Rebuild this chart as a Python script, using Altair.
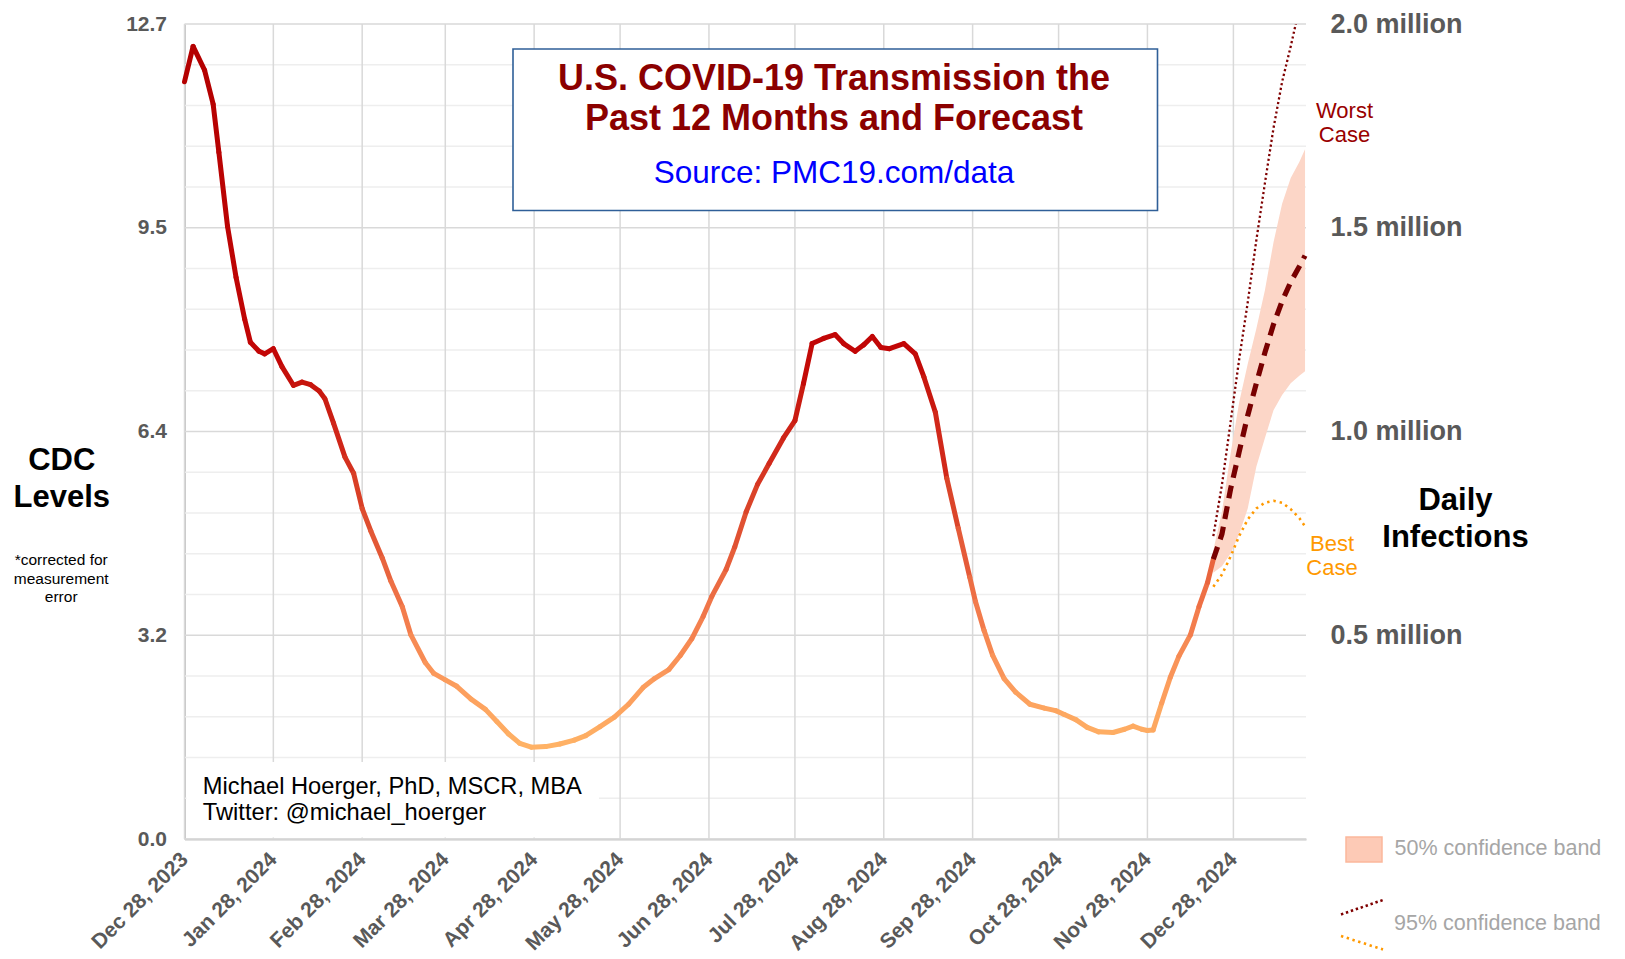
import altair as alt
import pandas as pd

FONT = "Liberation Sans, Arial, sans-serif"

# ---------------- data ----------------
hist_dates = [
    "2023-12-28", "2023-12-31", "2024-01-04", "2024-01-07", "2024-01-09", "2024-01-12",
    "2024-01-15", "2024-01-18", "2024-01-20", "2024-01-23", "2024-01-25", "2024-01-28",
    "2024-01-31", "2024-02-04", "2024-02-07", "2024-02-10", "2024-02-13", "2024-02-15",
    "2024-02-18", "2024-02-22", "2024-02-25", "2024-02-28", "2024-03-02", "2024-03-06",
    "2024-03-09", "2024-03-13", "2024-03-16", "2024-03-21", "2024-03-24", "2024-03-28",
    "2024-04-01", "2024-04-06", "2024-04-11", "2024-04-15", "2024-04-19", "2024-04-23",
    "2024-04-27", "2024-05-02", "2024-05-07", "2024-05-12", "2024-05-16", "2024-05-21",
    "2024-05-26", "2024-05-31", "2024-06-05", "2024-06-09", "2024-06-14", "2024-06-18",
    "2024-06-22", "2024-06-26", "2024-06-29", "2024-07-04", "2024-07-07", "2024-07-11",
    "2024-07-15", "2024-07-19", "2024-07-24", "2024-07-28", "2024-07-31", "2024-08-03",
    "2024-08-07", "2024-08-11", "2024-08-14", "2024-08-18", "2024-08-21", "2024-08-24",
    "2024-08-27", "2024-08-30", "2024-09-04", "2024-09-08", "2024-09-11", "2024-09-15",
    "2024-09-19", "2024-09-23", "2024-09-27", "2024-09-29", "2024-10-02", "2024-10-05",
    "2024-10-09", "2024-10-13", "2024-10-18", "2024-10-23", "2024-10-27", "2024-10-30",
    "2024-11-03", "2024-11-07", "2024-11-11", "2024-11-16", "2024-11-20", "2024-11-23",
    "2024-11-26", "2024-11-28", "2024-11-30", "2024-12-03", "2024-12-06", "2024-12-09",
    "2024-12-13", "2024-12-16", "2024-12-19", "2024-12-21",
]
hist_values = [
    11.80, 12.35, 11.98, 11.45, 10.70, 9.55,
    8.75, 8.10, 7.74, 7.60, 7.56, 7.64,
    7.36, 7.07, 7.12, 7.08, 6.98, 6.86,
    6.48, 5.95, 5.70, 5.15, 4.80, 4.38,
    4.02, 3.62, 3.18, 2.75, 2.58, 2.48,
    2.38, 2.18, 2.02, 1.83, 1.64, 1.49,
    1.43, 1.44, 1.48, 1.54, 1.61, 1.75,
    1.90, 2.10, 2.36, 2.50, 2.64, 2.86,
    3.12, 3.47, 3.78, 4.20, 4.55, 5.10,
    5.53, 5.85, 6.25, 6.52, 7.10, 7.72,
    7.80, 7.86, 7.72, 7.60, 7.70, 7.83,
    7.66, 7.64, 7.72, 7.56, 7.20, 6.65,
    5.62, 4.84, 4.08, 3.70, 3.25, 2.86,
    2.50, 2.29, 2.10, 2.04, 2.00, 1.94,
    1.86, 1.74, 1.67, 1.66, 1.71, 1.76,
    1.71, 1.69, 1.70, 2.12, 2.52, 2.85,
    3.18, 3.62, 4.00, 4.36,
]

fc_dates = ["2024-12-21", "2024-12-24", "2024-12-27", "2024-12-30", "2025-01-02", "2025-01-05",
            "2025-01-08", "2025-01-11", "2025-01-14", "2025-01-17", "2025-01-20", "2025-01-22"]
fc_median = [4.36, 4.75, 5.45, 6.03, 6.60, 7.10, 7.58, 8.02, 8.38, 8.68, 8.92, 9.09]
fc_lower50 = [4.15, 4.25, 4.45, 4.75, 5.15, 5.80, 6.25, 6.68, 6.92, 7.10, 7.22, 7.29]
fc_upper50 = [4.50, 5.10, 6.00, 6.80, 7.40, 7.95, 8.55, 9.30, 9.90, 10.30, 10.55, 10.75]
fc_worst = [4.72, 5.52, 6.49, 7.47, 8.36, 9.33, 10.22, 11.08, 11.80, 12.35, 12.95, 13.40]
fc_best = [3.93, 4.12, 4.40, 4.72, 4.98, 5.15, 5.24, 5.27, 5.24, 5.14, 5.00, 4.87]

month_ticks = ["2023-12-28", "2024-01-28", "2024-02-28", "2024-03-28", "2024-04-28",
               "2024-05-28", "2024-06-28", "2024-07-28", "2024-08-28", "2024-09-28",
               "2024-10-28", "2024-11-28", "2024-12-28"]
left_ticks = [0.0, 3.175, 6.35, 9.525, 12.7]
left_tick_labels = ["0.0", "3.2", "6.4", "9.5", "12.7"]
right_tick_labels = ["", "0.5 million", "1.0 million", "1.5 million", "2.0 million"]
minor_ticks = [0.635, 1.27, 1.905, 2.54, 3.81, 4.445, 5.08, 5.715, 6.985, 7.62,
               8.255, 8.89, 10.16, 10.795, 11.43, 12.065]

# ---------------- geometry ----------------
W, H = 1121.5, 815
PAD = {"left": 176.5, "top": 16, "right": 310, "bottom": 116}
OX, OY = 8 + PAD["left"], 8 + PAD["top"]   # page position of the plot origin
AXIS_GREY = "#595959"


def px(x):
    return x - OX


def py(y):
    return y - OY


def dt(s):
    y, m, d = (int(p) for p in s.split("-"))
    return alt.DateTime(year=y, month=m, date=d, utc=True)


def label_expr(values, labels):
    parts = [f"abs(datum.value - {v}) < 0.01 ? '{l}'" for v, l in zip(values, labels)]
    return " : ".join(parts) + " : ''"


xscale = alt.Scale(type="utc", domain=[dt("2023-12-28"),
                                       alt.DateTime(year=2025, month=1, date=22, hours=8, utc=True)])
yscale = alt.Scale(domain=[0, 12.7], nice=False, zero=False)

xaxis = alt.Axis(values=[dt(s) for s in month_ticks],
                 labelExpr="utcFormat(datum.value, '%b %d, %Y')",
                 labelAngle=315, labelAlign="right", labelBaseline="middle",
                 labelPadding=17, labelFontSize=21, labelFontWeight="bold",
                 labelColor=AXIS_GREY, labelFont=FONT, labelOverlap=False,
                 labelFlush=False, labelBound=False, grid=False, ticks=False,
                 domain=True, domainColor="#c6c6c6", domainWidth=2, title=None)
X = alt.X("date:T", scale=xscale, axis=xaxis)

left_axis = alt.Axis(values=left_ticks, labelExpr=label_expr(left_ticks, left_tick_labels),
                     orient="left", title=None, grid=False, ticks=False, domain=True,
                     domainColor="#c6c6c6", domainWidth=2, labelFontSize=21,
                     labelFontWeight="bold", labelColor=AXIS_GREY, labelFont=FONT,
                     labelPadding=18, labelOverlap=False)
right_axis = alt.Axis(values=left_ticks, labelExpr=label_expr(left_ticks, right_tick_labels),
                      orient="right", title=None, grid=False, ticks=False, domain=False,
                      labelFontSize=27, labelFontWeight="bold", labelColor=AXIS_GREY,
                      labelFont=FONT, labelPadding=24, labelAlign="left",
                      labelBaseline="middle", labelOverlap=False)

# ---------------- grid ----------------
minor_grid = alt.Chart(pd.DataFrame({"v": minor_ticks})).mark_rule(
    color="#eeeeee", strokeWidth=1.5
).encode(y=alt.Y("v:Q", scale=yscale, axis=right_axis), x=alt.value(0), x2=alt.value(W))

major_grid = alt.Chart(pd.DataFrame({"v": left_ticks})).mark_rule(
    color="#d9d9d9", strokeWidth=1.5
).encode(y=alt.Y("v:Q", scale=yscale, axis=left_axis), x=alt.value(0), x2=alt.value(W))

vert_grid = alt.Chart(pd.DataFrame({"date": month_ticks})).mark_rule(
    color="#d9d9d9", strokeWidth=1.5
).encode(x=X, y=alt.value(0), y2=alt.value(H))

ONE = alt.Data(values=[{"k": 0}])


def box(x, x2, y, y2, **kw):
    return alt.Chart(ONE).mark_rect(**kw).encode(
        x=alt.value(px(x)), x2=alt.value(px(x2)), y=alt.value(py(y)), y2=alt.value(py(y2)))


def txt(s, x, y, size, color="black", weight="normal", align="center", baseline="alphabetic"):
    return alt.Chart(ONE).mark_text(
        fontSize=size, color=color, fontWeight=weight, align=align,
        baseline=baseline, font=FONT
    ).encode(x=alt.value(px(x)), y=alt.value(py(y)), text=alt.value(s))


def seg(x, y, x2, y2, **kw):
    return alt.Chart(ONE).mark_rule(**kw).encode(
        x=alt.value(px(x)), x2=alt.value(px(x2)), y=alt.value(py(y)), y2=alt.value(py(y2)))


author_box = box(186.5, 599, 762, 837.5, fill="white")
title_box = box(513, 1157.5, 49, 210.5, fill="white", stroke="#2f5f98", strokeWidth=1.6)

# ---------------- data marks ----------------
seg_df = pd.DataFrame({
    "date": hist_dates[:-1],
    "date_end": hist_dates[1:],
    "v": hist_values[:-1],
    "v2": hist_values[1:],
})
seg_df["c"] = (seg_df["v"] + seg_df["v2"]) / 2

color_scale = alt.Scale(
    domain=[1.4, 2.5, 3.5, 4.5, 6.0, 7.5, 12.4],
    range=["#ffb366", "#fb9a5c", "#f27a4c", "#e45a38", "#d22a1c", "#c20606", "#b30000"],
    clamp=True,
)

hist_line = alt.Chart(seg_df).transform_calculate(
    date2="toDate(datum.date_end)"
).mark_rule(strokeWidth=5, strokeCap="round").encode(
    x=X, x2=alt.X2("date2"),
    y=alt.Y("v:Q", scale=yscale, axis=None), y2=alt.Y2("v2"),
    color=alt.Color("c:Q", scale=color_scale, legend=None),
)

fc_df = pd.DataFrame({
    "date": fc_dates, "median": fc_median, "lo": fc_lower50, "hi": fc_upper50,
    "worst": fc_worst, "best": fc_best,
})

band = alt.Chart(fc_df).mark_area(color="#fcd6c7", opacity=1).encode(
    x=X, y=alt.Y("lo:Q", scale=yscale, axis=None), y2=alt.Y2("hi"))

worst = alt.Chart(fc_df).mark_line(
    color="#7f0000", strokeWidth=2.3, strokeDash=[2.2, 2.6], clip=True
).encode(x=X, y=alt.Y("worst:Q", scale=yscale, axis=None))

best = alt.Chart(fc_df).mark_line(
    color="#ff9900", strokeWidth=2.6, strokeDash=[2.4, 4]
).encode(x=X, y=alt.Y("best:Q", scale=yscale, axis=None))

median = alt.Chart(fc_df).mark_line(
    color="#780000", strokeWidth=5.2, strokeDash=[13, 8]
).encode(x=X, y=alt.Y("median:Q", scale=yscale, axis=None))

# ---------------- annotations (page coordinates) ----------------
DARK_RED = "#8b0000"
texts = [
    txt("U.S. COVID-19 Transmission the", 834, 90, 36, DARK_RED, "bold"),
    txt("Past 12 Months and Forecast", 834, 130, 36, DARK_RED, "bold"),
    txt("Source: PMC19.com/data", 834, 182.7, 31.5, "#0000ff"),
    txt("Worst", 1344.5, 117.5, 22, "#990000"),
    txt("Case", 1344.5, 141.8, 22, "#990000"),
    txt("Best", 1332, 551, 22, "#ff9900"),
    txt("Case", 1332, 574.8, 22, "#ff9900"),
    txt("Daily", 1455.5, 510, 31, "black", "bold"),
    txt("Infections", 1455.5, 546.5, 31, "black", "bold"),
    txt("CDC", 61.8, 470.4, 31, "black", "bold"),
    txt("Levels", 61.8, 506.6, 31, "black", "bold"),
    txt("*corrected for", 61.2, 565.3, 15.5),
    txt("measurement", 61.2, 584.2, 15.5),
    txt("error", 61.2, 601.5, 15.5),
    txt("Michael Hoerger, PhD, MSCR, MBA", 202.8, 793.5, 23.7, align="left"),
    txt("Twitter: @michael_hoerger", 202.8, 820.4, 23.7, align="left"),
    txt("50% confidence band", 1394.5, 849.2, 21.5, "#a6a6a6", align="left", baseline="middle"),
    txt("95% confidence band", 1394, 924, 21.5, "#a6a6a6", align="left", baseline="middle"),
]

legend_rect = box(1346, 1382, 837, 862, fill="#fdcab6", stroke="#fbb89c", strokeWidth=1.5)
legend_worst = seg(1341, 914.4, 1383, 900, color="#7f0000", strokeWidth=2.6, strokeDash=[2.4, 2.8])
legend_best = seg(1341, 936, 1383, 949.5, color="#ff9900", strokeWidth=2.6, strokeDash=[2.4, 3.6])

chart = alt.layer(
    minor_grid, major_grid, vert_grid, author_box, title_box,
    band, hist_line, worst, best, median,
    legend_rect, legend_worst, legend_best, *texts,
).resolve_scale(y="independent").properties(
    width=W, height=H,
    autosize=alt.AutoSizeParams(type="none"),
    padding=PAD,
).configure(font=FONT).configure_view(strokeWidth=0)

chart.save("out.html", embed_options={"renderer": "svg", "actions": False})
